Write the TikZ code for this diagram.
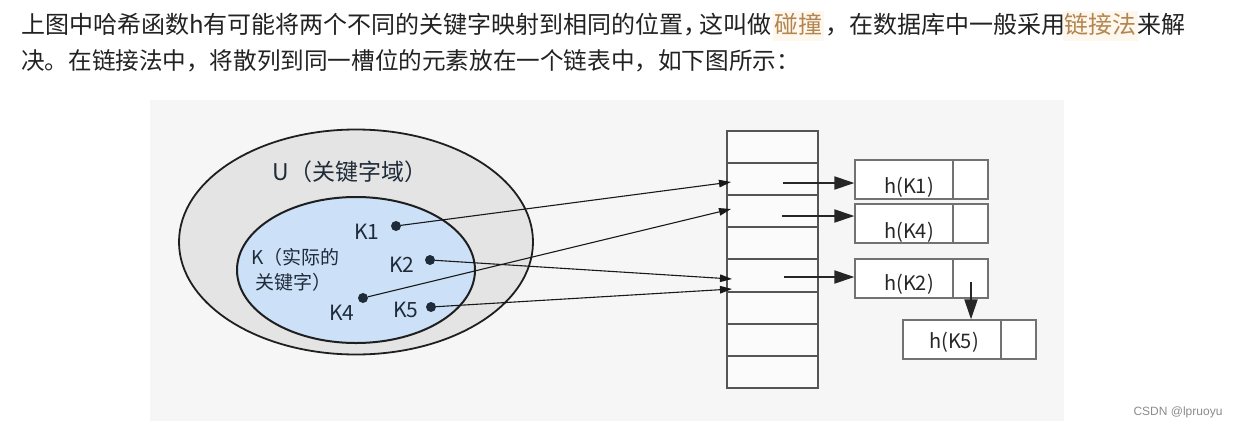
\documentclass[tikz,border=0pt]{standalone}
\usepackage{fontspec}
\setmainfont{Noto Sans CJK SC}
\newfontfamily\wmfont{Liberation Sans}
\usetikzlibrary{shapes.geometric,arrows.meta,calc}
\definecolor{bodytxt}{HTML}{222222}
\definecolor{hltext}{HTML}{B3854F}
\definecolor{hlbg}{HTML}{FDF7EE}
\definecolor{panel}{HTML}{F6F6F6}
\definecolor{outerfill}{HTML}{E4E4E4}
\definecolor{innerfill}{HTML}{CCE0F8}
\definecolor{ink}{HTML}{1F2B38}
\definecolor{tbl}{HTML}{555555}
\definecolor{boxc}{HTML}{727272}
\begin{document}
\begin{tikzpicture}[x=1pt,y=-1pt,
  bodyt/.style={anchor=base west,inner sep=0pt,text=bodytxt,font=\fontsize{24}{28}\selectfont},
  hl/.style={anchor=base,inner xsep=1.5pt,inner ysep=2pt,text height=20pt,text depth=6pt,fill=hlbg,text=hltext,font=\fontsize{24}{28}\selectfont},
  setell/.style={ellipse,draw=black!88,line width=1.8pt,inner sep=0pt},
  lbl/.style={text=ink,inner sep=0pt,font=\fontsize{21}{24}\selectfont},
  kdot/.style={circle,fill=ink,minimum size=10pt,inner sep=0pt},
  thinarrow/.style={draw=black!90,line width=1.1pt,-{Triangle[length=12pt,width=7.5pt]}},
  chainarrow/.style={draw=black!85,line width=2pt,-{Triangle[length=20pt,width=13pt]}},
  cellbox/.style={draw=tbl,line width=2pt,fill=white!60!panel,minimum width=91pt,minimum height=32.1pt,inner sep=0pt},
  databox/.style={draw=boxc,line width=1.3pt,fill=white,minimum width=98pt,minimum height=39pt,inner sep=0pt},
  ptrbox/.style={draw=boxc,line width=1.3pt,fill=white,minimum width=35pt,minimum height=39pt,inner sep=0pt},
  htxt/.style={text=black!85,inner sep=0pt,font=\fontsize{20}{24}\selectfont}
]
\useasboundingbox (0,0) rectangle (1237,429);
\fill[white] (0,0) rectangle (1237,429);

% paragraph text
\node[bodyt] (t1a) at (21,33) {上图中哈希函数h有可能将两个不同的关键字映射到相同的位置，};
\node[bodyt] (t1b) at (699,33) {这叫做};
\node[hl] (t1c) at (798.5,33) {碰撞};
\node[bodyt] (t1d) at (825,33) {，在数据库中一般采用};
\node[hl] (t1e) at (1100,33) {链接法};
\node[bodyt] (t1f) at (1137,33) {来解};
\node[bodyt,font=\fontsize{23.6}{28}\selectfont] (t2) at (21,69) {决。在链接法中，将散列到同一槽位的元素放在一个链表中，如下图所示：};

% figure panel
\fill[panel] (150,100) rectangle (1064,421);

% sets
\node[setell,fill=outerfill,minimum width=354pt,minimum height=225pt] (U) at (356,242) {};
\node[lbl,font=\fontsize{23}{26}\selectfont] (Ulbl) at (350,172) {U（关键字域）};
\node[setell,line width=2pt,fill=innerfill,minimum width=238pt,minimum height=146pt] (K) at (356,270) {};
\node[lbl,anchor=west,align=left,font=\fontsize{19}{25}\selectfont] (Klbl) at (251,270) {K（实际的\\\hspace*{4pt}关键字）};

\node[lbl] (k1) at (367,232) {K1};
\node[lbl] (k2) at (402,265) {K2};
\node[lbl] (k4) at (342,313) {K4};
\node[lbl] (k5) at (406,310) {K5};
\node[kdot] (d1) at (396,226) {};
\node[kdot] (d2) at (430,260) {};
\node[kdot] (d4) at (363,298) {};
\node[kdot] (d5) at (431,307) {};

% hash table
\foreach \i in {0,...,7}
  \node[cellbox] (c\i) at (772.5,{147.05+32.1*\i}) {};

% chained nodes
\node[databox] (hk1) at (904,179.5) {};
\node[ptrbox] (pk1) at (970.5,179.5) {};
\node[htxt] (hk1t) at (909,187) {h(K1)};
\node[databox] (hk4) at (904,223.5) {};
\node[ptrbox] (pk4) at (970.5,223.5) {};
\node[htxt] (hk4t) at (909,232) {h(K4)};
\node[databox] (hk2) at (904,278.5) {};
\node[ptrbox] (pk2) at (970.5,278.5) {};
\node[htxt] (hk2t) at (909,284) {h(K2)};
\node[databox] (hk5) at (952,339.5) {};
\node[ptrbox] (pk5) at (1018.5,339.5) {};
\node[htxt] (hk5t) at (954,342) {h(K5)};

% key arrows into table
\coordinate (e1) at (731,182);
\coordinate (e4) at (731,209);
\coordinate (e2) at (732,279);
\coordinate (e5) at (732,289);
\draw[thinarrow] (d1) -- (e1);
\draw[thinarrow] (d4) -- (e4);
\draw[thinarrow] (d2) -- (e2);
\draw[thinarrow] (d5) -- (e5);

% chain arrows
\coordinate (s1) at (783,183);
\coordinate (s4) at (782,216);
\coordinate (s2) at (784,277);
\coordinate (s25) at (971,282);
\draw[chainarrow] (s1) -- (s1 -| hk1.west);
\draw[chainarrow] (s4) -- (s4 -| hk4.west);
\draw[chainarrow] (s2) -- (s2 -| hk2.west);
\draw[chainarrow] (s25) -- (s25 |- hk5.north);

% watermark
\node[text=black!45,inner sep=0pt,font=\wmfont\fontsize{12}{14}\selectfont] (wm) at (1178,412) {CSDN @lpruoyu};
\end{tikzpicture}
\end{document}
